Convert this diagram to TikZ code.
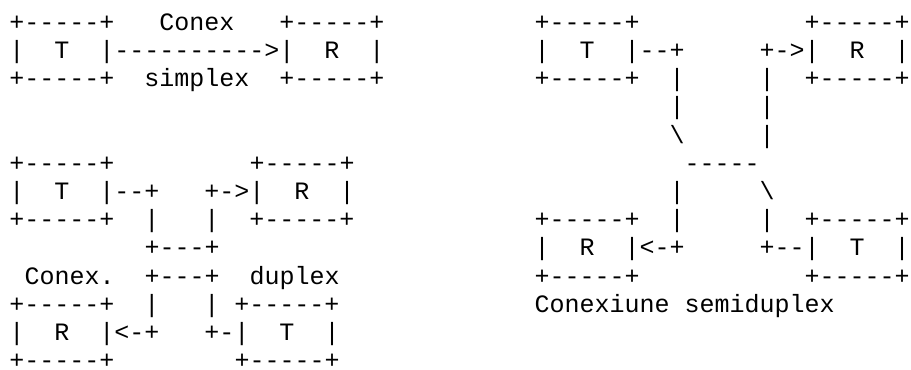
\documentclass[tikz,border=0pt]{standalone}
\usepackage{fontspec}
\setmonofont{Liberation Mono}
\usepackage{tikz}
\usetikzlibrary{positioning}
\tikzset{%
  every row/.style={
    anchor=base west,
    inner sep=0pt,
    outer sep=0pt,
    font=\ttfamily\frenchspacing\fontsize{18.75}{21}\selectfont
  },
}

\begin{document}
\begin{tikzpicture}[x=0.75pt, y=-0.75pt]
\useasboundingbox (0,0) rectangle (911,369);

% simplex
\foreach \txt [count=\r] in {%
    +-----+~~~Conex~~~+-----+,
    |~~T~~|---------->|~~R~~|,
    +-----+~~simplex~~+-----+}
  \node [every row/.try] (simplex-\r) at (9.5,{30.3+28.2*(\r-1)}) {\txt};

% duplex
\foreach \txt [count=\r from 6] in {%
    +-----+~~~~~~~~~+-----+,
    |~~T~~|--+~~~+->|~~R~~|,
    +-----+~~|~~~|~~+-----+,
    ~~~~~~~~~+---+,
    ~Conex.~~+---+~~duplex,
    +-----+~~|~~~|~+-----+,
    |~~R~~|<-+~~~+-|~~T~~|,
    +-----+~~~~~~~~+-----+}
  \node [every row/.try] (duplex-\r) at (9.5,{30.3+28.2*(\r-1)}) {\txt};

% semiduplex
\foreach \txt [count=\r] in {%
    +-----+~~~~~~~~~~~+-----+,
    |~~T~~|--+~~~~~+->|~~R~~|,
    +-----+~~|~~~~~|~~+-----+,
    ~~~~~~~~~|~~~~~|,
    ~~~~~~~~~\textbackslash~~~~~|,
    ~~~~~~~~~~-----,
    ~~~~~~~~~|~~~~~\textbackslash,
    +-----+~~|~~~~~|~~+-----+,
    |~~R~~|<-+~~~~~+--|~~T~~|,
    +-----+~~~~~~~~~~~+-----+,
    Conexiune~semiduplex}
  \node [every row/.try] (semi-\r) at (534.5,{30.3+28.2*(\r-1)}) {\txt};

\end{tikzpicture}
\end{document}
